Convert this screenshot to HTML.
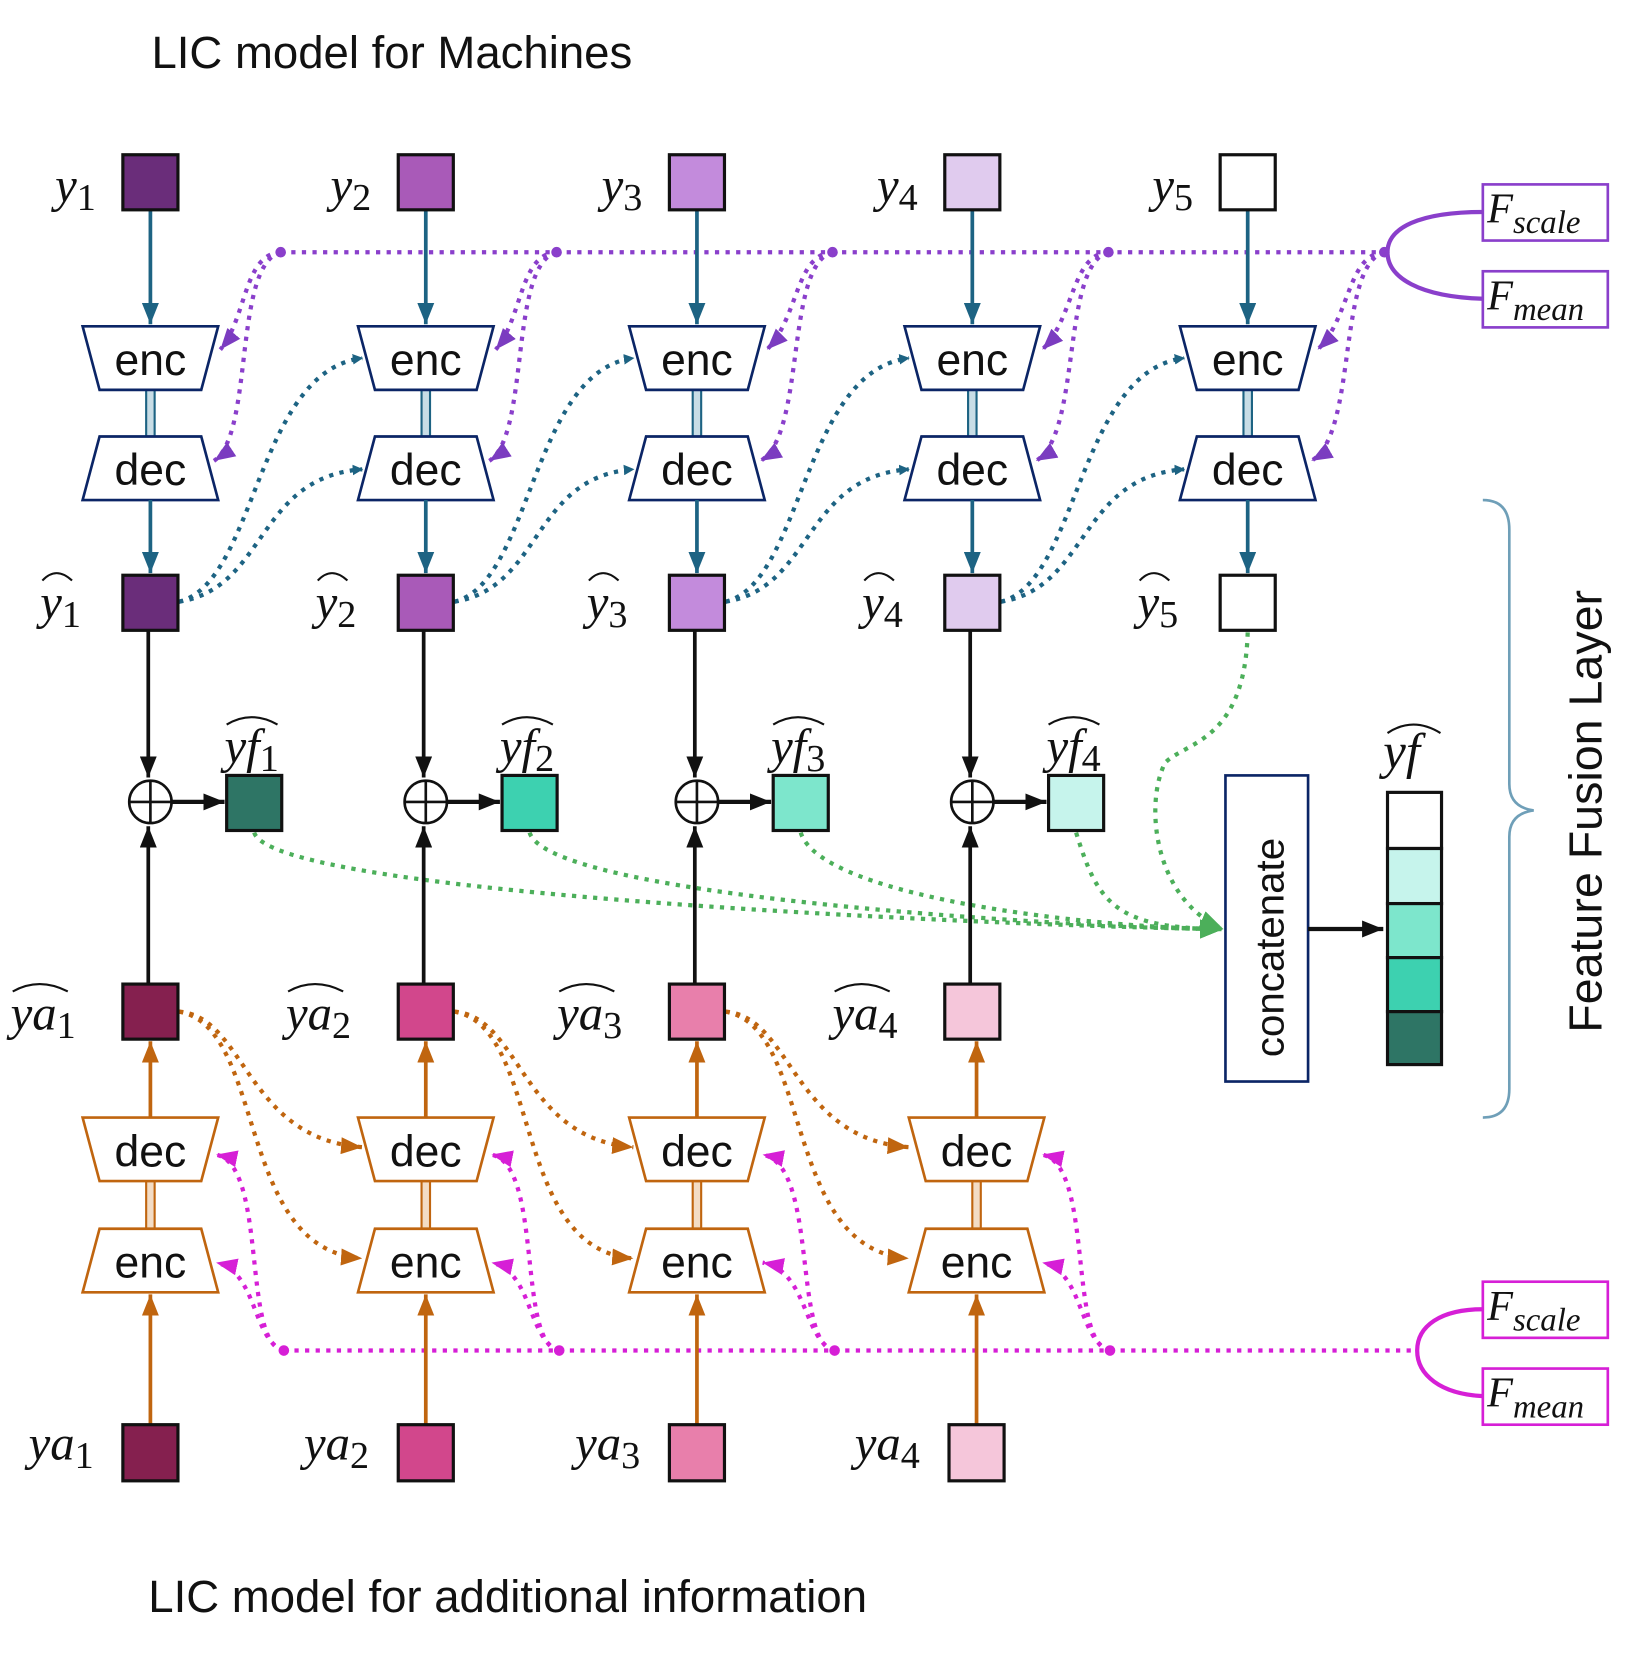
<!DOCTYPE html>
<html><head><meta charset="utf-8"><style>
html,body{margin:0;padding:0;background:#fff;}
svg{display:block}
.t{font-family:"Liberation Sans",sans-serif;fill:#111}
.m{font-family:"Liberation Serif",serif;font-style:italic;fill:#111}
</style></head><body>
<svg id="s" width="1629" height="1661" viewBox="0 0 1538 1568" xmlns="http://www.w3.org/2000/svg">
<defs>
<marker id="aT" markerWidth="10" markerHeight="10" refX="9" refY="5" orient="auto" markerUnits="userSpaceOnUse" viewBox="0 0 10 10"><path d="M0,0L10,5L0,10z" fill="#1d6383"/></marker>
<marker id="aTb" markerWidth="20" markerHeight="16" refX="20" refY="8" orient="auto" markerUnits="userSpaceOnUse"><path d="M0,0L20,8L0,16z" fill="#1d6383"/></marker>
<marker id="aK" markerWidth="20" markerHeight="16" refX="20" refY="8" orient="auto" markerUnits="userSpaceOnUse"><path d="M0,0L20,8L0,16z" fill="#111"/></marker>
<marker id="aO" markerWidth="20" markerHeight="16" refX="20" refY="8" orient="auto" markerUnits="userSpaceOnUse"><path d="M0,0L20,8L0,16z" fill="#c0650f"/></marker>
<marker id="aP" markerWidth="20" markerHeight="16" refX="20" refY="8" orient="auto" markerUnits="userSpaceOnUse"><path d="M0,0L20,8L0,16z" fill="#7b3cc0"/></marker>
<marker id="aM" markerWidth="20" markerHeight="16" refX="20" refY="8" orient="auto" markerUnits="userSpaceOnUse"><path d="M0,0L20,8L0,16z" fill="#d61fd6"/></marker>
<marker id="aG" markerWidth="22" markerHeight="18" refX="22" refY="9" orient="auto" markerUnits="userSpaceOnUse"><path d="M0,0L22,9L0,18z" fill="#4caf5a"/></marker>
</defs>
<text class="t" x="143" y="64" font-size="43">LIC model for Machines</text>
<text class="t" x="140" y="1522" font-size="43">LIC model for additional information</text>
<g id="g"></g>
<rect x="1157" y="732" width="78" height="289" fill="#fff" stroke="#0b2566" stroke-width="2.5"/>
<text class="t" font-size="38" transform="translate(1212,998) rotate(-90)">concatenate</text>
<line x1="1235" y1="877" x2="1306" y2="877" stroke="#111" stroke-width="4" marker-end="url(#aK)"/>
<rect x="1310" y="748" width="51" height="53" fill="#fff" stroke="#111" stroke-width="3"/>
<rect x="1310" y="801" width="51" height="52" fill="#c6f4ec" stroke="#111" stroke-width="3"/>
<rect x="1310" y="853" width="51" height="51" fill="#7de6cc" stroke="#111" stroke-width="3"/>
<rect x="1310" y="904" width="51" height="51" fill="#3dd1b0" stroke="#111" stroke-width="3"/>
<rect x="1310" y="955" width="51" height="50" fill="#2e7565" stroke="#111" stroke-width="3"/>
<text class="m" x="1306" y="725" font-size="48">yf</text>
<path d="M1310,692 Q1334,676 1360,692" fill="none" stroke="#111" stroke-width="2"/>
<path d="M1400,472 Q1425,472 1425,500 L1425,740 Q1425,762 1448,765 Q1425,768 1425,790 L1425,1028 Q1425,1055 1400,1055" fill="none" stroke="#6f9fb8" stroke-width="2.5"/>
<text class="t" font-size="44" transform="translate(1512,975) rotate(-90)">Feature Fusion Layer</text>
<g id="F"></g>
</svg>
<script>
var NS="http://www.w3.org/2000/svg",g=document.getElementById('g');
function add(tag,a,txt,parent){var e=document.createElementNS(NS,tag);for(var k in a)e.setAttribute(k,a[k]);if(txt)e.textContent=txt;(parent||g).appendChild(e);return e;}
var xs=[142,402,658,918,1178];
var yc=['#6a2d7a','#a95ab8','#c38bdc','#e0cbee','#ffffff'];
var fc=['#2e7565','#3dd1b0','#7de6cc','#c6f4ec'];
var ac=['#85204f','#d2478c','#e87fab','#f5c6da'];
function trap(cx,y,inv,stroke,label){
 var p=inv?[[cx-48,y],[cx+48,y],[cx+64,y+60],[cx-64,y+60]]:[[cx-64,y],[cx+64,y],[cx+48,y+60],[cx-48,y+60]];
 add('polygon',{points:p.map(function(q){return q.join(',')}).join(' '),fill:'#fff',stroke:stroke,'stroke-width':2.5});
 add('text',{class:'t',x:cx,y:y+46,'font-size':42,'text-anchor':'middle'},label);
}
function sub(x,y,base,s,hat){var t=add('text',{class:'m',x:x,y:y,'font-size':46});
 var a=document.createElementNS(NS,'tspan');a.textContent=base;t.appendChild(a);
 var b=document.createElementNS(NS,'tspan');b.setAttribute('font-style','normal');b.setAttribute('font-size','36');b.setAttribute('dy','8');b.textContent=s;t.appendChild(b);
 if(hat){add('path',{d:'M'+(x+2)+','+(y-36)+' Q'+(x+hat/2)+','+(y-50)+' '+(x+hat)+','+(y-36),fill:'none',stroke:'#111','stroke-width':2});}
}
var dp={fill:'none','stroke-width':4,'stroke-dasharray':'4 6'};
function dot(d,c,m){var a=Object.assign({},dp,{d:d,stroke:c});if(m)a['marker-end']='url(#'+m+')';add('path',a);}
dot('M265,238 L1310,238','#8a3fcb');
for(var i=0;i<5;i++){var x=xs[i],px=265+i*260.5;
 add('circle',{cx:px,cy:238,r:5,fill:'#8a3fcb'});
 dot('M'+px+','+238+' C'+(px-35)+',240 '+(px-32)+',300 '+(x+66)+',330','#8a3fcb','aP');
 dot('M'+px+','+238+' C'+(px-45)+',250 '+(px-25)+',410 '+(x+60)+',435','#8a3fcb','aP');
}
for(var i=0;i<4;i++){var x=xs[i],nx=xs[i+1];
 dot('M'+(x+27)+',568 C'+(x+100)+',550 '+(x+100)+',350 '+(nx-60)+',338','#1d6383','aT');
 dot('M'+(x+27)+',568 C'+(x+110)+',555 '+(x+100)+',450 '+(nx-60)+',443','#1d6383','aT');
}
for(var i=0;i<4;i++){var fx=xs[i]+98;
 dot('M'+fx+',786 C'+(fx+20)+',850 '+(1050)+',877 1155,877','#4caf5a','aG');}
dot('M1178,597 C1175,700 1120,700 1100,720 C1080,760 1090,850 1155,877','#4caf5a','aG');
for(var i=0;i<3;i++){var x=xs[i],nx=xs[i+1];
 dot('M'+(x+27)+',955 C'+(x+90)+',960 '+(x+90)+',1075 '+(nx-60)+',1083','#c0650f','aO');
 dot('M'+(x+27)+',955 C'+(x+110)+',970 '+(x+80)+',1180 '+(nx-60)+',1188','#c0650f','aO');}
dot('M268,1275 L1338,1275','#d61fd6');
for(var i=0;i<4;i++){var x=xs[i]+(i==3?4:0),px=268+i*260;
 add('circle',{cx:px,cy:1275,r:5,fill:'#d61fd6'});
 dot('M'+px+',1275 C'+(px-40)+',1270 '+(px-15)+',1100 '+(x+62)+',1090','#d61fd6','aM');
 dot('M'+px+',1275 C'+(px-30)+',1265 '+(px-25)+',1200 '+(x+62)+',1192','#d61fd6','aM');}
for(var i=0;i<5;i++){var x=xs[i];
 add('line',{x1:x,y1:198,x2:x,y2:306,stroke:'#1d6383','stroke-width':3.5,'marker-end':'url(#aTb)'});
 add('rect',{x:x-4,y:368,width:8,height:44,fill:'#c8dde6',stroke:'#1d6383','stroke-width':2});
 trap(x,308,false,'#0b2566','enc');trap(x,412,true,'#0b2566','dec');
 add('line',{x1:x,y1:472,x2:x,y2:541,stroke:'#1d6383','stroke-width':3.5,'marker-end':'url(#aTb)'});
 add('rect',{x:x-26,y:146,width:52,height:52,fill:yc[i],stroke:'#111','stroke-width':3});
 add('rect',{x:x-26,y:543,width:52,height:52,fill:yc[i],stroke:'#111','stroke-width':3});
 sub(x-90,190,'y',''+(i+1));sub(x-104,584,'y',''+(i+1),30);
}
for(var i=0;i<4;i++){var x=xs[i];
 add('line',{x1:x-2,y1:595,x2:x-2,y2:734,stroke:'#111','stroke-width':3.5,'marker-end':'url(#aK)'});
 add('line',{x1:x-2,y1:929,x2:x-2,y2:780,stroke:'#111','stroke-width':3.5,'marker-end':'url(#aK)'});
 add('circle',{cx:x,cy:757,r:20,fill:'#fff',stroke:'#111','stroke-width':2.5});
 add('line',{x1:x-20,y1:757,x2:x+20,y2:757,stroke:'#111','stroke-width':2.5});
 add('line',{x1:x,y1:737,x2:x,y2:777,stroke:'#111','stroke-width':2.5});
 add('line',{x1:x+20,y1:757,x2:x+70,y2:757,stroke:'#111','stroke-width':4,'marker-end':'url(#aK)'});
 add('rect',{x:x+72,y:732,width:52,height:52,fill:fc[i],stroke:'#111','stroke-width':3});
 sub(x+70,720,'yf',''+(i+1),50);
 var bx=x+(i==3?4:0);
 add('rect',{x:x-26,y:929,width:52,height:52,fill:ac[i],stroke:'#111','stroke-width':3});
 sub(x-132,972,'ya',''+(i+1),54);
 add('line',{x1:bx,y1:1055,x2:bx,y2:983,stroke:'#c0650f','stroke-width':3.5,'marker-end':'url(#aO)'});
 add('rect',{x:bx-4,y:1115,width:8,height:45,fill:'#f3dcc5',stroke:'#c0650f','stroke-width':2});
 trap(bx,1055,false,'#c0650f','dec');trap(bx,1160,true,'#c0650f','enc');
 add('line',{x1:bx,y1:1345,x2:bx,y2:1222,stroke:'#c0650f','stroke-width':3.5,'marker-end':'url(#aO)'});
 add('rect',{x:bx-26,y:1345,width:52,height:53,fill:ac[i],stroke:'#111','stroke-width':3});
 sub(bx-115,1378,'ya',''+(i+1));
}
var F=document.getElementById('F');
function fb(y,c,s){add('rect',{x:1400,y:y,width:118,height:53,fill:'#fff',stroke:c,'stroke-width':2.5},null,F);
 var t=add('text',{class:'m',x:1404,y:y+36,'font-size':40},null,F);
 var a=document.createElementNS(NS,'tspan');a.textContent='F';t.appendChild(a);
 var b=document.createElementNS(NS,'tspan');b.setAttribute('font-size','31');b.setAttribute('dy','10');b.textContent=s;t.appendChild(b);}
fb(174,'#8a3fcb','scale');fb(256,'#8a3fcb','mean');
add('path',{d:'M1400,200 C1340,200 1310,215 1310,238 C1310,262 1340,280 1400,282',fill:'none',stroke:'#8a3fcb','stroke-width':4},null,F);
fb(1210,'#d61fd6','scale');fb(1292,'#d61fd6','mean');
add('path',{d:'M1400,1236 C1360,1236 1338,1252 1338,1275 C1338,1298 1360,1316 1400,1318',fill:'none',stroke:'#d61fd6','stroke-width':4},null,F);
</script>
</body></html>
